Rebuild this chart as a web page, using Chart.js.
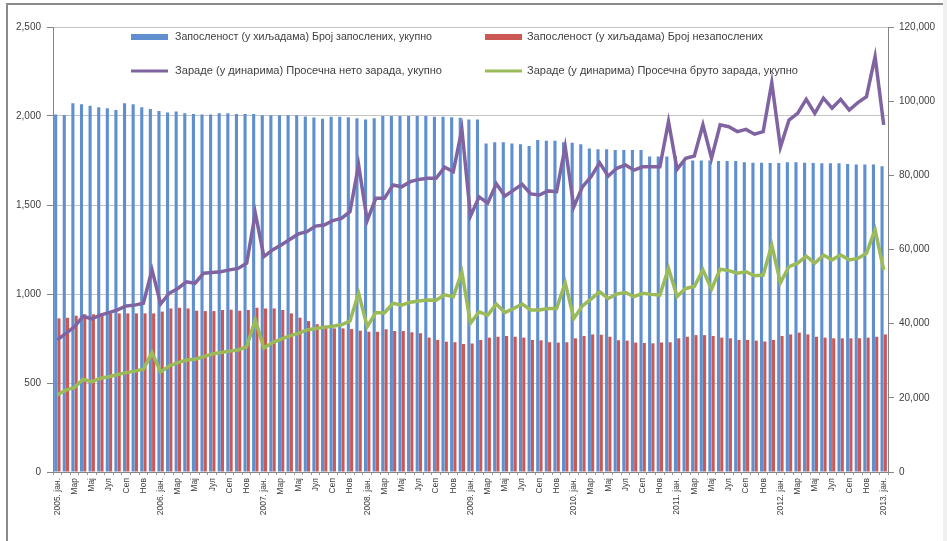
<!DOCTYPE html>
<html>
<head>
<meta charset="utf-8">
<script src="https://cdn.jsdelivr.net/npm/chart.js@4/dist/chart.umd.min.js"></script>
<style>
  html,body{margin:0;padding:0;background:#fff;}
  #wrap{position:relative;width:947px;height:541px;overflow:hidden;}
  #c{position:absolute;left:0;top:0;}
  .frameTop{position:absolute;left:7px;top:3px;width:936px;height:2px;background:#8a8a8a;}
  .frameLeft{position:absolute;left:6px;top:3px;width:2px;height:540px;background:#8a8a8a;}
  .frameRight{position:absolute;left:943px;top:0;width:4px;height:541px;background:#f0f0f0;}
</style>
</head>
<body>
<div id="wrap">
  <canvas id="c" width="947" height="541"></canvas>
  <div class="frameTop"></div>
  <div class="frameLeft"></div>
  <div class="frameRight"></div>
</div>
<script>
// ---- Data ----
const years = [2005, 2006, 2007, 2008, 2009, 2010, 2011, 2012, 2013];
const monthNames = ['јан.', 'феб', 'Мар', 'апр', 'Мај', 'јун', 'Јул', 'авг', 'Сеп', 'окт', 'Нов', 'дец'];
const categories = [];
years.forEach(y => {
  monthNames.forEach((m, k) => {
    if (y === 2013 && k > 0) return;
    categories.push(k === 0 ? y + '. ' + m : m);
  });
});

const employed = [
  2009, 2006, 2071, 2066, 2058, 2049, 2043, 2034, 2071, 2066, 2049, 2040,
  2028, 2019, 2025, 2015, 2011, 2009, 2009, 2015, 2015, 2011, 2011, 2011,
  2004, 2004, 2004, 2004, 2004, 1997, 1991, 1985, 1996, 1996, 1993, 1987,
  1981, 1987, 2000, 2000, 2000, 2000, 2000, 2000, 1996, 1996, 1993, 1990,
  1981, 1981, 1846, 1852, 1852, 1846, 1841, 1831, 1865, 1861, 1861, 1852,
  1850, 1841, 1818, 1813, 1813, 1809, 1809, 1809, 1809, 1772, 1772, 1772,
  1775, 1753, 1750, 1750, 1750, 1747, 1747, 1747, 1740, 1738, 1738, 1736,
  1736, 1740, 1740, 1738, 1736, 1734, 1734, 1734, 1730, 1728, 1728, 1727,
  1718
];
const unemployed = [
  863, 867, 878, 886, 886, 891, 891, 891, 891, 891, 891, 891,
  901, 919, 923, 919, 906, 904, 904, 910, 912, 906, 910, 923,
  919, 919, 910, 891, 867, 848, 830, 822, 807, 807, 803, 794,
  788, 788, 802, 792, 792, 785, 779, 755, 742, 732, 729, 719,
  722, 742, 755, 760, 764, 760, 755, 742, 740, 729, 727, 729,
  751, 764, 773, 771, 760, 740, 738, 727, 725, 723, 727, 729,
  751, 760, 769, 769, 764, 755, 751, 742, 742, 738, 733, 742,
  764, 773, 783, 773, 760, 755, 751, 751, 751, 751, 755, 760,
  773
];
const netWage = [
  35600, 37400, 39200, 42000, 41300, 42300, 42960, 43700, 44760, 45000, 45500, 54500,
  45300, 48200, 49500, 51300, 50900, 53600, 53800, 54000, 54500, 54900, 56300, 69800,
  58100, 59900, 61200, 62700, 64200, 64800, 66300, 66600, 67800, 68400, 70200, 82800,
  67800, 73800, 73800, 77400, 76900, 78300, 78900, 79200, 79200, 82200, 81000, 92400,
  69000, 74200, 72500, 77700, 74400, 76000, 77600, 75000, 74700, 75800, 75600, 87700,
  71500, 76900, 79600, 83400, 79800, 81900, 82800, 81400, 82300, 82300, 82300, 94500,
  81600, 84600, 85200, 93600, 84600, 93600, 93100, 91800, 92400, 91100, 91800, 105000,
  87600, 94900, 96700, 100500, 96700, 100800, 98100, 100500, 97600, 99600, 101200, 112000,
  93600
];
const grossWage = [
  20800, 22100, 22800, 25000, 24300, 25300, 25700, 26300, 26800, 27200, 27700, 32200,
  27000, 28600, 29500, 30200, 30400, 31100, 31800, 32200, 32600, 32900, 33800, 41000,
  33400, 34900, 35800, 36700, 37400, 38300, 38700, 39000, 39300, 39700, 40700, 48200,
  39200, 43000, 42900, 45500, 45000, 45800, 46100, 46400, 46300, 47800, 47300, 53900,
  40100, 43200, 42300, 45300, 43000, 44100, 45300, 43700, 43700, 44100, 44100, 51000,
  41400, 44800, 46600, 48600, 46800, 48000, 48400, 47300, 48200, 47900, 47700, 54900,
  47300, 49500, 50000, 54500, 49300, 54700, 54300, 53600, 54000, 52900, 53100, 61200,
  51000, 55400, 56300, 58200, 56300, 58500, 57200, 58500, 57200, 57600, 59000, 65300,
  54500
];
const seriesNames = [
  'Запосленост (у хиљадама) Број запослених, укупно',
  'Запосленост (у хиљадама) Број незапослених',
  'Зараде (у динарима) Просечна нето зарада, укупно',
  'Зараде (у динарима) Просечна бруто зарада, укупно'
];
const leftTicks = [0, 500, 1000, 1500, 2000, 2500];
const rightTicks = [0, 20000, 40000, 60000, 80000, 100000, 120000];

// ---- Colors ----
const C_BLUE = '#5f8fcf', C_RED = '#cc5855', C_PURPLE = '#8064a2', C_GREEN = '#9bbb59';
const FONT = '"Liberation Sans", Arial, sans-serif';

// Custom legend (drawn inside the plot area like the original)
const legendPlugin = {
  id: 'insideLegend',
  afterDraw(chart) {
    const ctx = chart.ctx;
    const items = [
      {ds: 0, type: 'box', x: 131, y: 37, tx: 175, tw: 257},
      {ds: 1, type: 'box', x: 485, y: 37, tx: 527, tw: 236},
      {ds: 2, type: 'line', x: 131, y: 71, tx: 175, tw: 267},
      {ds: 3, type: 'line', x: 485, y: 71, tx: 527, tw: 271}
    ];
    ctx.save();
    items.forEach(it => {
      const ds = chart.data.datasets[it.ds];
      if (it.type === 'box') {
        ctx.fillStyle = ds.backgroundColor;
        ctx.fillRect(it.x, it.y - 3, 37, 6);
      } else {
        ctx.strokeStyle = ds.borderColor;
        ctx.lineWidth = 3;
        ctx.beginPath();
        ctx.moveTo(it.x, it.y);
        ctx.lineTo(it.x + 37, it.y);
        ctx.stroke();
      }
      ctx.font = '10px ' + FONT;
      ctx.fillStyle = '#404040';
      ctx.textBaseline = 'middle';
      const w = ctx.measureText(ds.label).width;
      ctx.save();
      ctx.translate(it.tx, it.y);
      ctx.scale(it.tw / w, 1);
      ctx.fillText(ds.label, 0, 0);
      ctx.restore();
    });
    ctx.restore();
  }
};

new Chart(document.getElementById('c'), {
  type: 'bar',
  data: {
    labels: categories,
    datasets: [
      {label: seriesNames[0], data: employed, backgroundColor: C_BLUE, yAxisID: 'yL', order: 2,
       categoryPercentage: 0.76, barPercentage: 0.95},
      {label: seriesNames[1], data: unemployed, backgroundColor: C_RED, yAxisID: 'yL', order: 2,
       categoryPercentage: 0.76, barPercentage: 0.95},
      {type: 'line', label: seriesNames[2], data: netWage, borderColor: C_PURPLE, backgroundColor: C_PURPLE,
       borderWidth: 3.5, pointRadius: 0, tension: 0, yAxisID: 'yR', order: 0},
      {type: 'line', label: seriesNames[3], data: grossWage, borderColor: C_GREEN, backgroundColor: C_GREEN,
       borderWidth: 3.5, pointRadius: 0, tension: 0, yAxisID: 'yR', order: 1}
    ]
  },
  options: {
    responsive: false,
    animation: false,
    devicePixelRatio: 1,
    layout: {padding: {top: 27, left: 0, right: 0, bottom: 0}},
    plugins: {legend: {display: false}, tooltip: {enabled: false}},
    scales: {
      x: {
        type: 'category',
        offset: true,
        grid: {display: true, drawOnChartArea: false, drawTicks: true, tickLength: 3, color: '#9a9a9a'},
        border: {color: '#868686'},
        ticks: {
          autoSkip: false, maxRotation: 90, minRotation: 90, padding: 3,
          color: '#404040', font: {size: 8.5, family: FONT},
          callback: function (v, i) { return i % 2 === 0 ? this.getLabelForValue(v) : ''; }
        },
        afterFit: s => { s.height = 69; }
      },
      yL: {
        position: 'left', min: 0, max: 2500,
        afterBuildTicks: s => { s.ticks = leftTicks.map(v => ({value: v})); },
        ticks: {color: '#404040', font: {size: 10, family: FONT}, padding: 6,
                callback: v => v.toLocaleString('en-US')},
        grid: {color: '#c4c4c4', tickColor: '#868686', tickLength: 6},
        border: {color: '#868686'},
        afterFit: s => { s.width = 53; }
      },
      yR: {
        position: 'right', min: 0, max: 120000,
        afterBuildTicks: s => { s.ticks = rightTicks.map(v => ({value: v})); },
        ticks: {color: '#404040', font: {size: 10, family: FONT}, padding: 5,
                callback: v => v.toLocaleString('en-US')},
        grid: {drawOnChartArea: false, tickColor: '#868686', tickLength: 6},
        border: {color: '#868686'},
        afterFit: s => { s.width = 59; }
      }
    }
  },
  plugins: [legendPlugin]
});
</script>
</body>
</html>
